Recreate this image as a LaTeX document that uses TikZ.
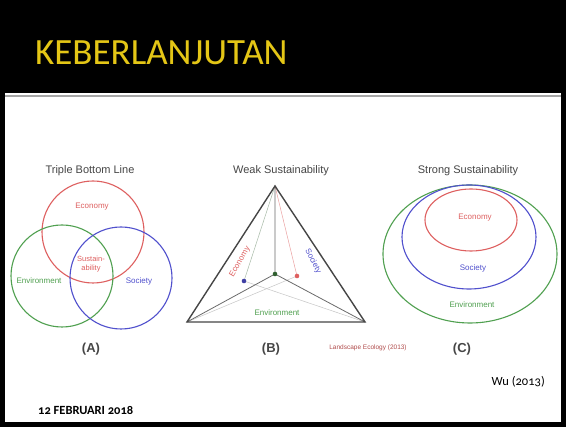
\documentclass[tikz,border=0pt]{standalone}
\usepackage{fontspec}
\setmainfont{Liberation Sans}
\newfontfamily\slidefont[Numbers=OldStyle]{Carlito}
\definecolor{titleyellow}{RGB}{228,198,22}
\definecolor{ecored}{RGB}{222,96,96}
\definecolor{socblue}{RGB}{80,80,205}
\definecolor{envgreen}{RGB}{80,160,80}
\definecolor{darkline}{RGB}{70,70,70}
\definecolor{labgray}{RGB}{70,70,70}
\begin{document}
\begin{tikzpicture}[x=1pt,y=-1pt,
  ring/.style={line width=1.1pt},
  heading/.style={font=\fontsize{11}{12}\selectfont, text=labgray, inner sep=0pt},
  panel/.style={font=\bfseries\fontsize{13}{14}\selectfont, text=labgray, inner sep=0pt},
  small/.style={font=\fontsize{8}{9}\selectfont, inner sep=0pt, align=center},
  faint/.style={line width=0.5pt}]
\useasboundingbox (0,0) rectangle (566,427);
% slide frame
\fill[black] (0,0) rectangle (566,427);
\fill[white] (5,93) rectangle (561,422);
\draw[gray!70, line width=1.2pt] (5,96) -- (561,96);
\node[anchor=base west, inner sep=0pt, text=titleyellow, font=\slidefont\fontsize{37}{40}\selectfont] (title) at (35,65) {KEBERLANJUTAN};

% (A) Triple bottom line
\node[heading] (tA) at (90,171) {Triple Bottom Line};
\draw[ring, ecored] (93,232) circle[radius=51];
\draw[ring, envgreen] (62,276) circle[radius=51];
\draw[ring, socblue] (121,278) circle[radius=51];
\node[small, text=ecored] (ecoA) at (92,207) {Economy};
\node[small, text=ecored, font=\fontsize{7.5}{8.5}\selectfont] (susA) at (91,264) {Sustain-\\ability};
\node[small, text=envgreen] (envA) at (39,281) {Environment};
\node[small, text=socblue] (socA) at (139,281) {Society};
\node[panel] (pA) at (91,349) {(A)};

% (B) Weak sustainability
\node[heading] (tB) at (281,171) {Weak Sustainability};
\coordinate (top) at (275,186);
\coordinate (bl) at (187,322);
\coordinate (br) at (365,322);
\coordinate (ctr) at (275,274);
\coordinate (bdot) at (244,281);
\coordinate (rdot) at (297,276);
\draw[faint, envgreen!40!gray!60] (top) -- (bdot);
\draw[faint, ecored!60] (top) -- (rdot);
\draw[faint, gray!45] (bl) -- (rdot);
\draw[faint, gray!45] (br) -- (bdot);
\draw[line width=0.8pt, darkline!80] (top) -- (ctr) (bl) -- (ctr) (br) -- (ctr);
\draw[line width=1.4pt, darkline, line join=miter] (top) -- (bl) -- (br) -- cycle;
\fill[envgreen!60!black] (ctr) circle[radius=2.3];
\fill[socblue!80!black] (bdot) circle[radius=2.3];
\fill[ecored] (rdot) circle[radius=2.3];
\node[small, text=ecored, rotate=60] (ecoB) at (240,262) {Economy};
\node[small, text=socblue, rotate=-62] (socB) at (313,261) {Society};
\node[small, text=envgreen] (envB) at (277,313) {Environment};
\node[panel] (pB) at (271,349) {(B)};
\node[inner sep=0pt, text=ecored!80!black, font=\fontsize{6.5}{7}\selectfont] (ls) at (368,348) {Landscape Ecology (2013)};

% (C) Strong sustainability
\node[heading] (tC) at (468,171) {Strong Sustainability};
\draw[ring, envgreen] (470,254) ellipse[x radius=87, y radius=69];
\draw[ring, socblue] (469,237) ellipse[x radius=67, y radius=52];
\draw[ring, ecored] (471,220) ellipse[x radius=46, y radius=31];
\node[small, text=ecored] (ecoC) at (475,218) {Economy};
\node[small, text=socblue] (socC) at (473,268) {Society};
\node[small, text=envgreen] (envC) at (472,305) {Environment};
\node[panel] (pC) at (462,349) {(C)};

% footer
\node[anchor=base east, inner sep=0pt, font=\slidefont\fontsize{12.5}{14}\selectfont] (wu) at (545,386) {Wu (2013)};
\node[anchor=base west, inner sep=0pt, font=\slidefont\bfseries\fontsize{12.5}{14}\selectfont] (date) at (38,415) {12 FEBRUARI 2018};
\end{tikzpicture}
\end{document}
